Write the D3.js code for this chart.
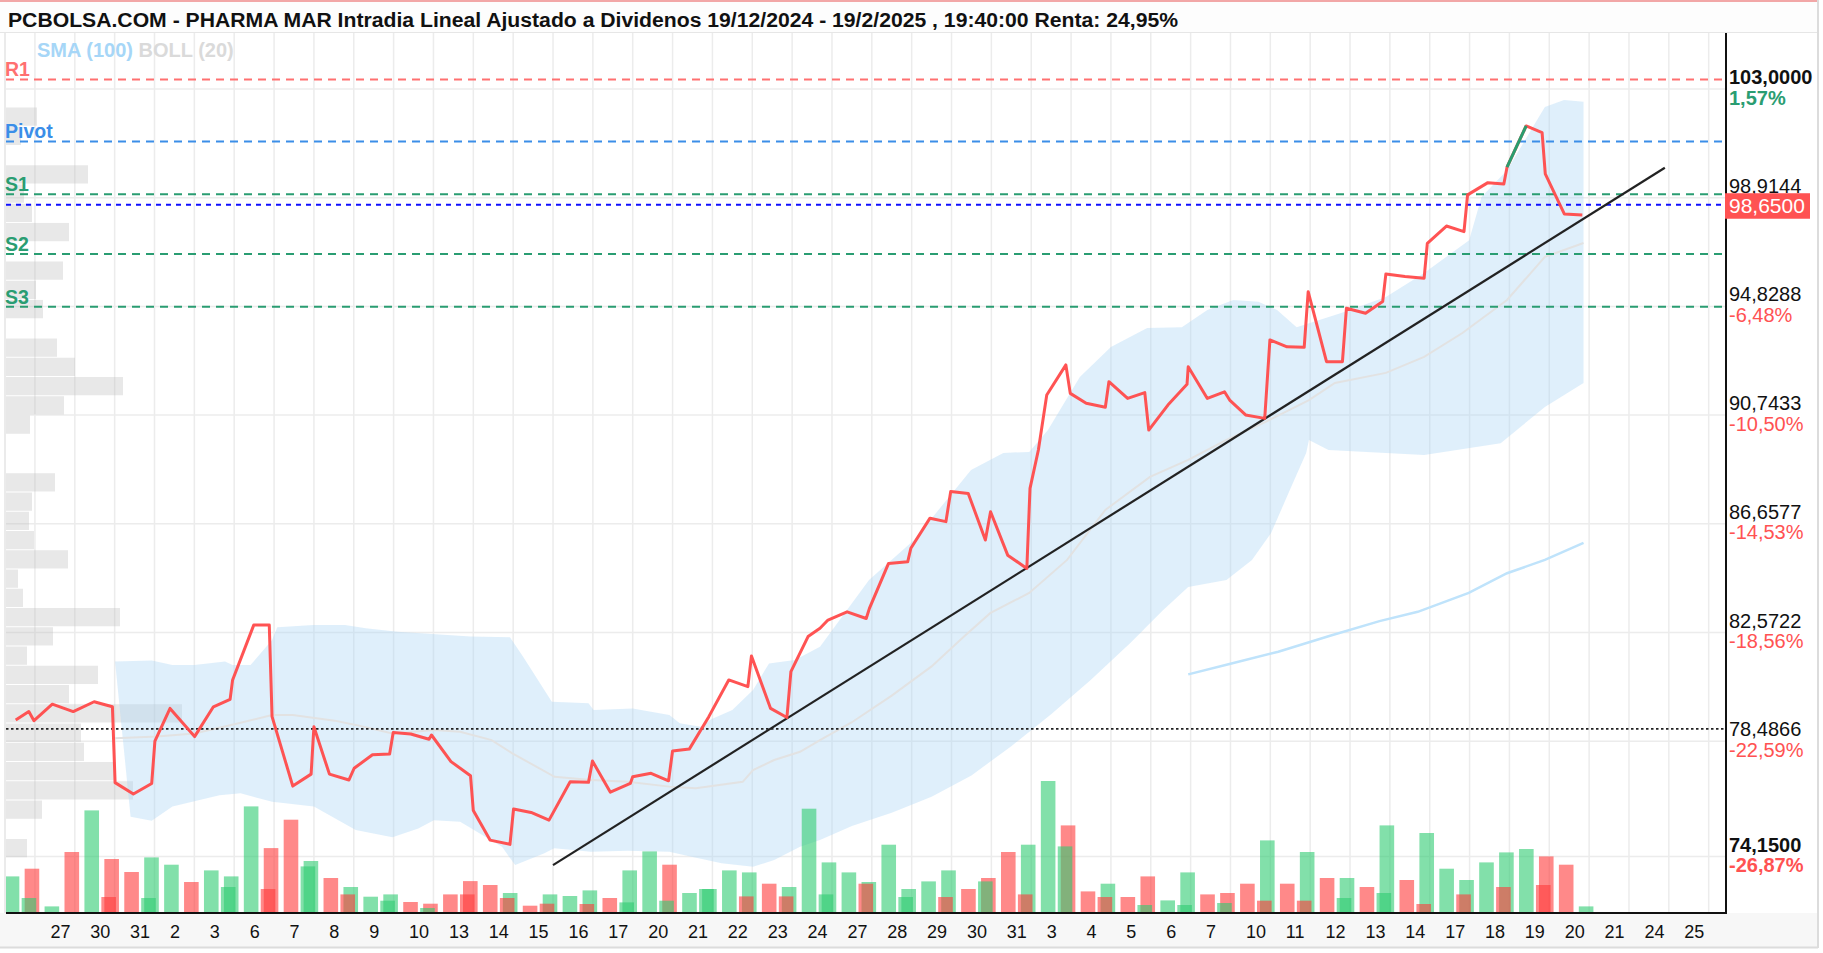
<!DOCTYPE html>
<html><head><meta charset="utf-8">
<script src="https://cdn.jsdelivr.net/npm/d3@7"></script>
<style>body{margin:0;background:#fff;overflow:hidden}svg{display:block}</style>
</head><body>
<svg id="chart" width="1823" height="953"></svg>
<script>
// ---------------- DATA ----------------
const titleText = "PCBOLSA.COM - PHARMA MAR Intradia Lineal Ajustado a Dividenos 19/12/2024 - 19/2/2025 , 19:40:00 Renta: 24,95%";
const dayLabels = ["27","30","31","2","3","6","7","8","9","10","13","14","15","16","17","20","21","22","23","24","27","28","29","30","31","3","4","5","6","7","10","11","12","13","14","17","18","19","20","21","24","25"];
const priceTicks = [103.0, 98.9144, 94.8288, 90.7433, 86.6577, 82.5722, 78.4866, 74.15];
const priceTickLabels = ["103,0000","98,9144","94,8288","90,7433","86,6577","82,5722","78,4866","74,1500"];
const pctTickLabels = ["1,57%","","-6,48%","-10,50%","-14,53%","-18,56%","-22,59%","-26,87%"];
const lastPrice = 98.65, lastPriceLabel = "98,6500";
const startPrice = 78.95;

const levelNames = ["R1","Pivot","S1","S2","S3"];
const levelValues = [103.36, 101.03, 99.04, 96.80, 94.82];

// price series: time (trading-day units) and value
const priceT = [-1.483,-1.154,-1.024,-0.565,-0.04,0.485,0.944,1.011,1.47,1.93,2.01,2.39,3.006,3.478,3.897,3.96,4.49,4.88,4.95,5.47,5.93,6.0,6.39,6.88,7.01,7.47,7.9,7.99,8.43,8.89,8.95,9.44,9.93,10.0,10.42,10.92,11.01,11.45,11.9,12.43,12.89,12.99,13.44,13.94,14.0,14.46,14.9,15.0,15.42,15.91,16.41,16.89,16.98,17.46,17.87,17.97,18.4,18.7,18.9,19.38,19.86,19.94,20.42,20.9,20.98,21.46,21.86,21.98,22.42,22.85,22.98,23.41,23.89,23.97,24.18,24.39,24.87,24.98,25.38,25.86,25.95,26.42,26.85,26.95,27.43,27.91,27.94,28.42,28.85,28.98,29.38,29.86,29.99,30.42,30.85,30.95,31.41,31.81,31.91,32.39,32.82,32.9,33.38,33.86,33.94,34.42,34.86,34.95,35.46,35.86,35.94,36.42,36.82,36.9,37.38,37.83];
const priceV = [79.28,79.60,79.26,79.88,79.60,79.97,79.78,76.93,76.50,76.90,78.49,79.72,78.66,79.78,80.06,80.79,82.85,82.85,79.41,76.80,77.25,79.03,77.25,77.03,77.47,77.98,78.01,78.81,78.76,78.56,78.72,77.72,77.19,75.88,74.77,74.61,75.94,75.81,75.52,76.96,76.94,77.74,76.57,76.90,77.15,77.28,77.00,78.12,78.19,79.41,80.79,80.54,81.69,79.72,79.38,81.10,82.42,82.73,83.04,83.35,83.10,83.48,85.17,85.23,85.74,86.87,86.74,87.87,87.80,86.05,87.11,85.48,84.98,87.99,89.43,91.50,92.63,91.56,91.19,91.04,92.00,91.37,91.59,90.18,91.12,91.90,92.56,91.37,91.62,91.31,90.75,90.62,93.57,93.31,93.29,95.38,92.75,92.75,94.76,94.57,95.01,96.05,95.95,95.89,97.20,97.85,97.64,99.02,99.48,99.43,100.06,101.61,101.36,99.81,98.30,98.26];
const upMoveFrom = 35.94, upMoveTo = 36.42;

// trend line (two anchor points)
const trendT = [12.0, 39.9];
const trendV = [73.83, 100.04];

// Bollinger (20) bands
const bollUpT = [1.01,1.93,2.45,3.0,3.77,3.96,4.41,4.95,5.08,5.99,6.78,7.3,8.1,9.93,10.92,11.25,11.97,12.89,13.02,14.0,14.92,15.18,15.71,15.97,16.5,17.02,17.42,18.07,18.7,19.93,21.06,22.49,23.3,23.95,24.42,25.22,26.0,26.91,27.78,28.42,29.07,29.7,30.17,30.66,31.78,32.9,33.86,34.99,35.3,35.94,36.89,37.37,37.86];
const bollUpV = [81.48,81.52,81.35,81.35,81.48,81.35,81.35,82.29,82.77,82.85,82.85,82.73,82.6,82.42,82.39,81.66,79.97,79.91,79.66,79.72,79.47,79.16,79.03,79.31,79.66,80.41,81.41,81.54,82.04,84.55,86.05,88.68,89.32,89.36,90.18,92.18,93.3,94.02,94.05,94.69,95.07,95.0,94.69,94.05,94.58,95.18,96.08,97.32,98.94,99.95,102.32,102.59,102.52];
const bollLoT = [1.4,1.93,2.45,3.63,4.16,4.95,6.0,7.05,7.97,8.62,9.01,9.67,10.72,11.05,11.77,12.03,12.95,13.87,14.92,15.45,16.23,17.02,17.55,18.2,18.7,19.5,20.5,21.5,22.5,23.5,24.5,25.5,26.5,27.3,27.94,28.9,29.54,30.02,30.49,30.9,30.97,31.46,33.86,35.78,36.89,37.86];
const bollLoV = [75.65,75.50,76.03,76.46,76.53,76.21,76.03,75.15,74.88,75.21,75.52,75.46,74.52,73.83,74.27,74.46,74.33,74.37,74.33,74.15,73.90,73.77,74.02,74.52,74.77,75.3,75.8,76.4,77.2,78.3,79.5,80.8,82.2,83.4,84.28,84.55,85.3,86.31,87.93,89.32,89.81,89.43,89.24,89.69,91.05,91.95];
const bollMidT = [1.01,2.06,3.0,4.03,4.95,5.47,6.52,7.05,7.97,9.02,9.67,10.46,10.98,12.04,12.95,13.87,14.92,15.58,16.76,17.02,17.55,18.2,18.7,19.5,20.5,21.5,22.3,22.97,23.95,24.9,25.86,26.98,27.94,28.9,29.87,30.97,31.62,32.9,33.86,34.82,35.94,36.89,37.86];
const bollMidV = [78.6,78.66,78.78,79.13,79.47,79.47,79.26,79.1,78.78,78.91,78.84,78.53,78.03,77.15,77.03,76.96,76.78,76.72,76.96,77.4,77.78,78.09,78.53,79.2,80.2,81.3,82.4,83.3,84.06,85.3,87.18,88.42,89.06,89.81,90.48,91.31,91.95,92.33,92.93,93.83,95.07,96.69,97.21];

// SMA (100)
const smaT = [27.94,29.0,30.2,31.5,32.74,33.7,34.98,35.94,36.89,37.86];
const smaV = [81.0,81.4,81.85,82.45,83.0,83.35,84.06,84.8,85.3,85.94];

// volume per half session (first at t = -1.5, step 0.5); G = up, R = down, - = none
const volStartT = -1.5, volStepT = 0.5;
const volMain = [36.6,44.3,6.6,61,102.6,54,41,55.6,48.3,31,
                 42.6,36.6,106.6,64.9,93.3,52,35,26,16.3,18.6,
                 11,9.3,18.6,31.9,28,20,7.3,18.6,17,22.6,
                 15,42.6,61.6,48.3,20,24,42.6,40.6,29.3,26,
                 104.3,50.6,40.6,31,68.3,24,31.6,42.6,24,35,
                 61,68.3,132,87.6,21.6,29.3,16,36.6,12.6,40.6,
                 18.6,20,29.3,72.6,29.3,61,35,35,26,87.6,
                 33,80,44.3,33,50.6,60.6,64,56.6,48.3,6.6];
const volMainDir = ("GRGRGRRGGR GGGRRGRGGG RRRRRGRGGG RGGRGGGGRG GGGGGGGGRR " +
                    "RGGRRGRRGG RRRGRGRGRG RGGGGGGRRG").replace(/ /g, "");
const volOver = [0,15,0,0,0,16,0,15,0,0,
                 0,26,0,24,0,46.6,0,18.6,0,12.3,
                 0,5,0,18.6,0,15,0,9.3,0,9,
                 0,10.6,0,12.3,0,24,0,16.6,0,16.6,
                 0,18.6,0,29.3,0,16,0,16,0,31.6,
                 0,18.6,0,66.6,0,16,0,8,0,8,
                 0,10,0,12.3,0,12.3,0,15,0,20,
                 0,9,0,18.6,0,26,0,28,0,0];
const volOverDir = ("-G---R-G-- -G-R-G-R-G -G-R-R-R-R -G-G-G-R-R -G-R-G-R-G " +
                    "-R-G-R-G-G -G-R-R-G-G -R-R-R-R--").replace(/ /g, "");

// volume-at-price profile (bins from top price, fixed bin height)
const profileTopPrice = 102.305, profileBin = 0.7235;
const profileVol = [31,15,0,82,18,26,63,0,57,30,37,0,51,69,117,58,24,0,0,49,26,23,28,62,12,17,114,47,21,92,63,176,75,78,110,127,36,0,21];

// ---------------- LAYOUT ----------------
const W = 1823, H = 953;
const L = 6, R = 1726, T = 33, B = 913;
const svg = d3.select("#chart");
const x = d3.scaleLinear().domain([-1.7265, 41.435]).range([L, R]);
const y = d3.scaleLinear().domain([74.15, 103]).range([856.6, 89]);
const yVol = d3.scaleLinear().domain([0, 140]).range([B, B - 140]);
const profW = d3.scaleLinear().domain([0, 180]).range([0, 180]);
const FONT = "'Liberation Sans', Arial, sans-serif";

svg.append("rect").attr("width", W).attr("height", H).attr("fill", "#fff");
// title bar
svg.append("rect").attr("x", 0).attr("y", 0).attr("width", 1818).attr("height", 32).attr("fill", "#fdfdfd");
svg.append("line").attr("x1", 0).attr("x2", 1818).attr("y1", 1).attr("y2", 1).attr("stroke", "#f2a7a7").attr("stroke-width", 2);
svg.append("line").attr("x1", 0).attr("x2", 1818).attr("y1", 32.5).attr("y2", 32.5).attr("stroke", "#e6e6e6");
svg.append("text").attr("x", 8).attr("y", 27).text(titleText)
  .attr("font-family", "'Liberation Sans Narrow','Liberation Sans',Arial,sans-serif").attr("font-weight", "bold")
  .attr("font-size", 20).attr("fill", "#111").attr("textLength", 1170).attr("lengthAdjust", "spacingAndGlyphs");

// x label bar
svg.append("rect").attr("x", 0).attr("y", B).attr("width", 1818).attr("height", 34).attr("fill", "#f7f7f7");
svg.append("line").attr("x1", 0).attr("x2", 1818).attr("y1", 947.5).attr("y2", 947.5).attr("stroke", "#dcdcdc").attr("stroke-width", 2);
svg.append("line").attr("x1", 1818).attr("x2", 1818).attr("y1", 0).attr("y2", 948).attr("stroke", "#dcdcdc").attr("stroke-width", 2);
svg.append("line").attr("x1", 5).attr("x2", 5).attr("y1", T).attr("y2", B).attr("stroke", "#e4e4e4").attr("stroke-width", 1.5);

svg.append("defs").append("clipPath").attr("id", "plotClip").append("rect")
  .attr("x", L).attr("y", T).attr("width", R - L).attr("height", B - T);
const plot = svg.append("g").attr("clip-path", "url(#plotClip)");

// grid
const dayBounds = d3.range(-1, 42);
plot.append("g").selectAll("line").data(dayBounds).join("line")
  .attr("x1", d => x(d)).attr("x2", d => x(d)).attr("y1", T).attr("y2", B)
  .attr("stroke", "#ececec").attr("stroke-width", 1.5);
plot.append("g").selectAll("line").data(priceTicks).join("line")
  .attr("x1", L).attr("x2", R).attr("y1", d => y(d)).attr("y2", d => y(d))
  .attr("stroke", "#ececec").attr("stroke-width", 1.5);

// volume profile
plot.append("g").selectAll("rect").data(profileVol).join("rect")
  .attr("x", L).attr("width", d => profW(d))
  .attr("y", (d, i) => y(profileTopPrice - i * profileBin))
  .attr("height", (d, i) => y(profileTopPrice - (i + 1) * profileBin) - y(profileTopPrice - i * profileBin) - 1)
  .attr("fill", "rgba(190,190,190,0.35)");

// bollinger band
const upPts = bollUpT.map((t, i) => [t, bollUpV[i]]);
const loPts = bollLoT.map((t, i) => [t, bollLoV[i]]);
const line = d3.line().x(d => x(d[0])).y(d => y(d[1]));
plot.append("path").attr("d", line(upPts.concat(loPts.slice().reverse())) + "Z")
  .attr("fill", "rgba(170,214,245,0.38)");
plot.append("path").attr("d", line(bollMidT.map((t, i) => [t, bollMidV[i]])))
  .attr("fill", "none").attr("stroke", "#e2e2e2").attr("stroke-width", 2);
plot.append("path").attr("d", line(smaT.map((t, i) => [t, smaV[i]])))
  .attr("fill", "none").attr("stroke", "#bfe3fb").attr("stroke-width", 2.5);

// volume bars
const colG = "rgba(46,204,113,0.6)", colR = "rgba(255,59,59,0.6)";
const volT = volMain.map((v, i) => volStartT + i * volStepT);
const barW = 14.6;
plot.append("g").selectAll("rect").data(volMain).join("rect")
  .attr("x", (d, i) => x(volT[i]) - 3 - barW / 2).attr("width", barW)
  .attr("y", d => yVol(d)).attr("height", d => B - yVol(d))
  .attr("fill", (d, i) => volMainDir[i] === "G" ? colG : colR);
plot.append("g").selectAll("rect").data(volOver).join("rect")
  .attr("x", (d, i) => x(volT[i]) - 6 - barW / 2).attr("width", barW)
  .attr("y", d => yVol(d)).attr("height", d => B - yVol(d))
  .attr("fill", (d, i) => volOverDir[i] === "G" ? colG : colR);

// pivot levels
const levelColor = {R1: "#ff7070", Pivot: "#3b8ee8", S1: "#2a9d72", S2: "#2a9d72", S3: "#2a9d72"};
levelNames.forEach((n, i) => {
  plot.append("line").attr("x1", L).attr("x2", R).attr("y1", y(levelValues[i])).attr("y2", y(levelValues[i]))
    .attr("stroke", levelColor[n]).attr("stroke-width", 2).attr("stroke-dasharray", "8,6");
  svg.append("text").attr("x", 5).attr("y", y(levelValues[i]) - 3).text(n)
    .attr("font-family", FONT).attr("font-weight", "bold").attr("font-size", 19.5).attr("fill", levelColor[n]);
});
// last price line
plot.append("line").attr("x1", L).attr("x2", R).attr("y1", y(lastPrice)).attr("y2", y(lastPrice))
  .attr("stroke", "#1010ff").attr("stroke-width", 2).attr("stroke-dasharray", "5,5");
// start price dotted
plot.append("line").attr("x1", L).attr("x2", R).attr("y1", y(startPrice)).attr("y2", y(startPrice))
  .attr("stroke", "#222").attr("stroke-width", 1.6).attr("stroke-dasharray", "2.5,2.5");

// trend line
plot.append("path").attr("d", line(trendT.map((t, i) => [t, trendV[i]])))
  .attr("stroke", "#222").attr("stroke-width", 2.2).attr("fill", "none");

// price
const pricePts = priceT.map((t, i) => [t, priceV[i]]);
plot.append("path").attr("d", line(pricePts)).attr("fill", "none")
  .attr("stroke", "#ff4a4a").attr("stroke-width", 3).attr("stroke-linejoin", "round").attr("opacity", 0.95);
plot.append("path").attr("d", line(pricePts.filter(p => p[0] >= upMoveFrom && p[0] <= upMoveTo)))
  .attr("fill", "none").attr("stroke", "#2a9d6f").attr("stroke-width", 3);

// legend
svg.append("text").attr("x", 37).attr("y", 57).attr("font-family", FONT).attr("font-weight", "bold").attr("font-size", 20)
  .call(t => {
    t.append("tspan").text("SMA (100)").attr("fill", "#a6d6f7");
    t.append("tspan").text(" BOLL (20)").attr("fill", "#dadada");
  });

// axes lines
svg.append("line").attr("x1", L).attr("x2", R + 1).attr("y1", B).attr("y2", B).attr("stroke", "#111").attr("stroke-width", 2);
svg.append("line").attr("x1", R).attr("x2", R).attr("y1", T).attr("y2", B).attr("stroke", "#111").attr("stroke-width", 2);

// x labels
svg.append("g").selectAll("text").data(dayLabels).join("text")
  .attr("x", (d, i) => x(i - 0.5) - 4.5).attr("y", 938).text(d => d)
  .attr("font-family", "'Liberation Sans Narrow','Liberation Sans',Arial,sans-serif").attr("font-size", 18).attr("fill", "#111");

// right labels
const rl = svg.append("g");
priceTicks.forEach((v, i) => {
  const bold = (i === 0 || i === priceTicks.length - 1);
  rl.append("text").attr("x", 1729).attr("y", y(v) - 5).text(priceTickLabels[i])
    .attr("font-family", FONT).attr("font-size", 20).attr("font-weight", bold ? "bold" : "normal").attr("fill", "#111");
  if (pctTickLabels[i]) rl.append("text").attr("x", 1729).attr("y", y(v) + 15.5).text(pctTickLabels[i])
    .attr("font-family", FONT).attr("font-size", 20).attr("font-weight", bold ? "bold" : "normal")
    .attr("fill", i === 0 ? "#2a9d72" : "#ff5252");
});
rl.append("rect").attr("x", 1725).attr("y", y(lastPrice) - 11.5).attr("width", 85).attr("height", 25.5).attr("fill", "#ff5252");
rl.append("text").attr("x", 1729).attr("y", y(lastPrice) + 8.5).text(lastPriceLabel)
  .attr("font-family", FONT).attr("font-size", 21).attr("fill", "#fff");
</script>
</body></html>
